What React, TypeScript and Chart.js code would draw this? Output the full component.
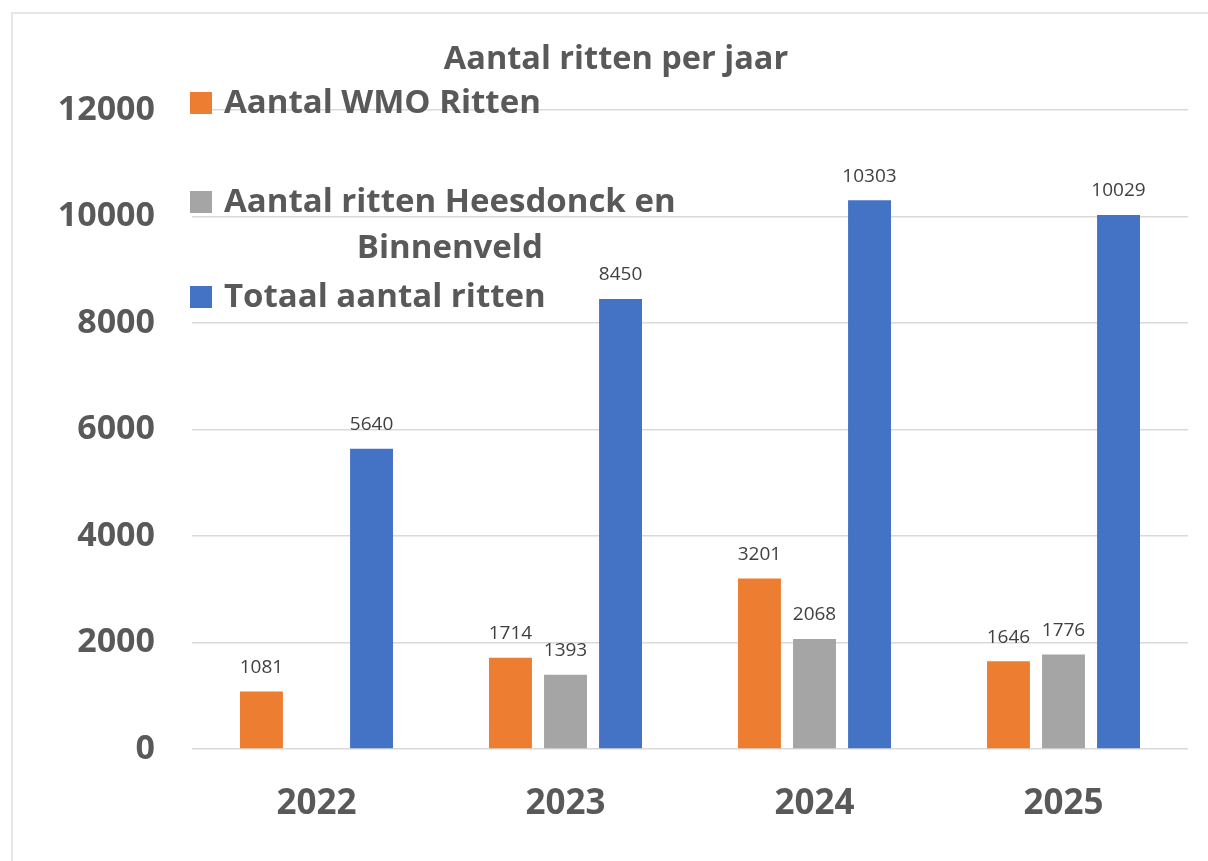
import React, { useEffect, useRef } from "react";
import { Chart, registerables } from "chart.js";

Chart.register(...registerables);

const categories = ["2022", "2023", "2024", "2025"];
const wmoRitten: (number | null)[] = [1081, 1714, 3201, 1646];
const heesdonckRitten: (number | null)[] = [null, 1393, 2068, 1776];
const totaalRitten: (number | null)[] = [5640, 8450, 10303, 10029];
const seriesLabels = [
  "Aantal WMO Ritten",
  "Aantal ritten Heesdonck en Binnenveld",
  "Totaal aantal ritten",
];
const legendLines = [
  ["Aantal WMO Ritten"],
  ["Aantal ritten Heesdonck en", "Binnenveld"],
  ["Totaal aantal ritten"],
];
const chartTitle = "Aantal ritten per jaar";
const yMax = 12000;
const yStep = 2000;

const colors = ["#ED7D31", "#A5A5A5", "#4472C4"];
const textGray = "#595959";
const FONT = "'Open Sans', 'Noto Sans', sans-serif";

const legendCenters = [103, 202, 297];
const legendLineGap = 46;

const overlayPlugin = {
  id: "overlay",
  afterDatasetsDraw(chart: any) {
    const ctx = chart.ctx;
    ctx.save();
    // data labels
    ctx.font = `400 19px ${FONT}`;
    ctx.fillStyle = "#404040";
    ctx.textAlign = "center";
    ctx.textBaseline = "middle";
    chart.data.datasets.forEach((ds: any, di: number) => {
      const meta = chart.getDatasetMeta(di);
      meta.data.forEach((el: any, i: number) => {
        const v = ds.data[i];
        if (v === null || v === undefined) return;
        ctx.fillText(String(v), el.x, el.y - 24);
      });
    });
    // title
    ctx.font = `700 32.5px ${FONT}`;
    ctx.fillStyle = textGray;
    ctx.fillText(chartTitle, 616, 60);
    // legend
    ctx.font = `700 33px ${FONT}`;
    legendLines.forEach((lines, i) => {
      const cy = legendCenters[i];
      ctx.fillStyle = colors[i];
      ctx.fillRect(190, cy - 11, 22, 22);
      ctx.fillStyle = textGray;
      ctx.textAlign = "left";
      ctx.fillText(lines[0], 224, cy + 1);
      const w0 = ctx.measureText(lines[0]).width;
      for (let k = 1; k < lines.length; k++) {
        ctx.textAlign = "center";
        ctx.fillText(lines[k], 224 + w0 / 2, cy + 1 + k * legendLineGap);
      }
    });
    ctx.restore();
  },
};

export default function App() {
  const ref = useRef<HTMLCanvasElement | null>(null);
  useEffect(() => {
    if (!ref.current) return;
    const chart = new Chart(ref.current, {
      type: "bar",
      data: {
        labels: categories,
        datasets: [
          { label: seriesLabels[0], data: wmoRitten, backgroundColor: colors[0] },
          { label: seriesLabels[1], data: heesdonckRitten, backgroundColor: colors[1] },
          { label: seriesLabels[2], data: totaalRitten, backgroundColor: colors[2] },
        ],
      },
      options: {
        animation: false,
        responsive: false,
        maintainAspectRatio: false,
        devicePixelRatio: 1,
        datasets: {
          bar: { categoryPercentage: 0.663, barPercentage: 0.78 },
        },
        layout: { padding: { top: 110, right: 20, left: 0, bottom: 0 } },
        plugins: {
          legend: { display: false },
          title: { display: false },
          tooltip: { enabled: false },
        },
        scales: {
          x: {
            grid: { display: false, drawTicks: false },
            border: { display: false },
            ticks: {
              color: textGray,
              font: { family: FONT, size: 35, weight: "bold" },
              padding: 34,
            },
            afterFit(scale: any) {
              scale.height = 112;
            },
          },
          y: {
            min: 0,
            max: yMax,
            grid: { color: "#d9d9d9", lineWidth: 1.5, drawTicks: false },
            border: { display: false },
            ticks: {
              stepSize: yStep,
              color: textGray,
              font: { family: FONT, size: 34, weight: "bold" },
              padding: 37,
              callback: (v: any) => String(v),
            },
            afterFit(scale: any) {
              scale.width = 192;
            },
          },
        },
      },
      plugins: [overlayPlugin],
    } as any);
    return () => chart.destroy();
  }, []);
  return (
    <div
      style={{
        position: "fixed",
        left: 0,
        top: 0,
        width: 1208,
        height: 861,
        overflow: "hidden",
        background: "#fff",
      }}
    >
      <div
        style={{
          position: "absolute",
          left: 11,
          top: 12,
          width: 1300,
          height: 1000,
          border: "2px solid #e6e6e6",
        }}
      />
      <canvas
        ref={ref}
        width={1208}
        height={861}
        style={{ position: "absolute", left: 0, top: 0, width: 1208, height: 861 }}
      />
    </div>
  );
}
